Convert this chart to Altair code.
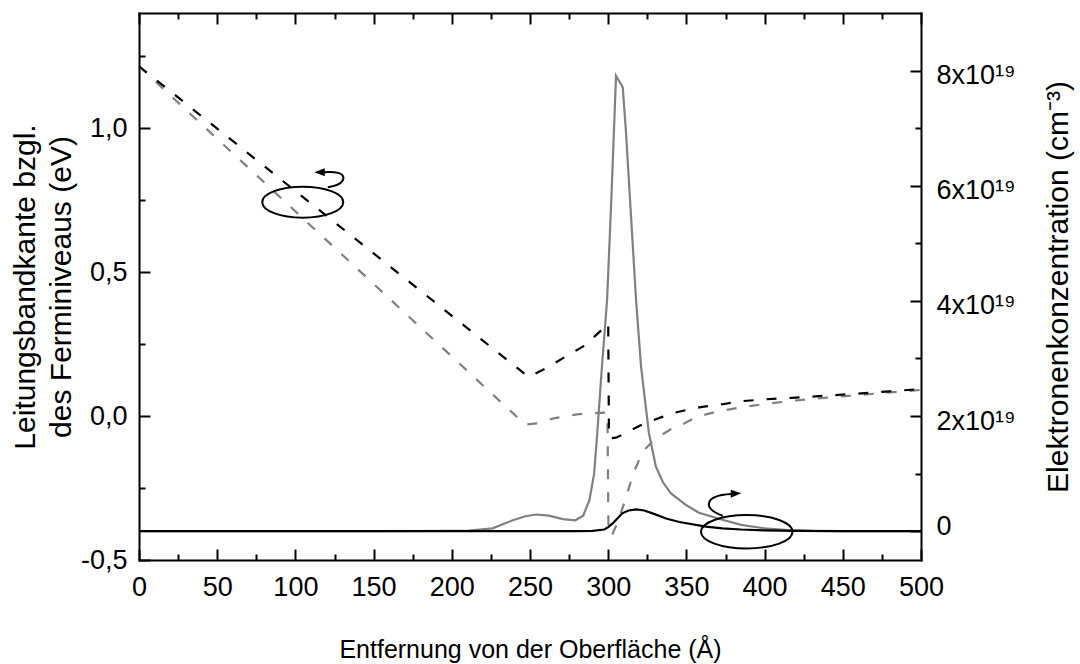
import altair as alt
import pandas as pd

# Conduction band edge relative to the Fermi level (eV) -- dashed curves
band_gray_x = [0, 247, 255, 265, 280, 290, 299.5, 300.2, 302.5, 306, 311, 316, 322, 328, 334,
               340, 347, 357, 370, 385, 400, 420, 440, 460, 480, 500]
band_gray_y = [1.215, -0.03, -0.025, -0.008, 0.006, 0.01, 0.012, -0.41, -0.413, -0.37, -0.29,
               -0.2, -0.125, -0.09, -0.066, -0.046, -0.03, -0.002, 0.016, 0.03, 0.042, 0.054,
               0.064, 0.073, 0.082, 0.091]
band_black_x = [0, 249, 260, 272, 285, 297, 300, 300.5, 305, 310, 316, 322, 328, 335, 342, 350,
                360, 373, 386, 400, 420, 440, 460, 480, 500]
band_black_y = [1.215, 0.136, 0.165, 0.204, 0.245, 0.305, 0.322, -0.078, -0.075, -0.062, -0.045,
                -0.029, -0.016, -0.002, 0.011, 0.021, 0.032, 0.041, 0.052, 0.058, 0.064, 0.071,
                0.078, 0.086, 0.094]

# Electron concentration in units of 1e19 cm^-3 -- solid curves
conc_gray_x = [0, 150, 200, 211, 226, 239, 247, 254, 262, 271, 279, 284, 288, 291, 293, 296,
               299.3, 302.2, 305, 309.3, 311.4, 317.8, 321, 326, 330.5, 335, 340, 350, 358, 373,
               385, 400, 415, 430, 450, 500]
conc_gray_y = [0, 0, 0.005, 0.01, 0.05, 0.19, 0.26, 0.29, 0.27, 0.21, 0.19, 0.27, 0.54, 1.0, 1.7,
               2.86, 4.02, 5.9, 7.91, 7.71, 6.92, 4.02, 2.86, 1.71, 1.12, 0.85, 0.66, 0.45, 0.32,
               0.2, 0.11, 0.05, 0.02, 0.005, 0, 0]
conc_black_x = [0, 280, 290, 297.5, 300, 303, 309, 313, 318, 323, 328.4, 337, 345.5, 362.5, 373,
                385, 400, 420, 450, 500]
conc_black_y = [0, 0, 0.005, 0.03, 0.07, 0.14, 0.31, 0.36, 0.38, 0.36, 0.31, 0.22, 0.16, 0.08,
                0.05, 0.03, 0.015, 0.005, 0, 0]

# Tick positions
x_major = [0, 50, 100, 150, 200, 250, 300, 350, 400, 450, 500]
x_minor = [25, 75, 125, 175, 225, 275, 325, 375, 425, 475]
ev_major = [-0.5, 0.0, 0.5, 1.0]
ev_minor = [-0.25, 0.25, 0.75, 1.25]
conc_major = [0, 2, 4, 6, 8]
conc_minor = [1, 3, 5, 7]

# Axis markers: an ellipse round each curve group with a curled arrow towards its axis.
# The first sits on the band-edge curves (eV), the second on the concentration curves.
band_marker_x = [104.7]
band_marker_y = [0.743]
conc_marker_x = [388.6]
conc_marker_y = [-0.01]
band_marker_outline = ("M-40.5,0A40.5,15.5 0 1,0 40.5,0A40.5,15.5 0 1,0 -40.5,0Z"
                       "M25,-15C33,-16 40,-19 40.7,-24C41,-29 33,-31 21,-30")
band_marker_head = "M11.5,-30L22,-34L22,-26Z"
conc_marker_outline = ("M-45.8,0A45.8,16.7 0 1,0 45.8,0A45.8,16.7 0 1,0 -45.8,0Z"
                       "M-24,-16C-32,-19 -38,-22 -38,-27C-38,-33 -31,-37 -15,-37.7")
conc_marker_head = "M-5.5,-38.5L-16,-42L-16,-34Z"

W, H = 782, 547
X_DOMAIN = [0, 500]
EV_DOMAIN = [-0.5, 1.4]
CONC_DOMAIN = [-0.5, 9.0]
GRAY = "#808080"
DASH = [10, 13]
MAJOR, MINOR = 11, 6


def frame(xs, ys):
    return pd.DataFrame({"i": range(len(xs)), "x": xs, "y": ys})


def xenc(axis):
    return alt.X("x:Q", scale=alt.Scale(domain=X_DOMAIN, nice=False, zero=False), axis=axis)


def yenc(domain, axis):
    return alt.Y("y:Q", scale=alt.Scale(domain=domain, nice=False, zero=False), axis=axis)


def inward(orient, values, size, offset, domain):
    # ticks pointing into the plot: an axis of the opposite side moved across the plot
    return alt.Axis(orient=orient, offset=offset, values=values, tickSize=size,
                    labels=False, domain=domain, title=None)


ev_labels = "replace(replace(format(datum.value, '.1f'), '.', ','), '\u2212', '-')"

# label axes (no ticks, no domain)
axis_bottom = alt.Axis(
    orient="bottom", values=x_major, format="d", ticks=False, domain=False, labelPadding=14,
    labelFlush=False, labelOverlap=False, labelFontSize=27,
    title="Entfernung von der Oberfläche (Å)", titleFontSize=25, titleY=97,
    titleBaseline="alphabetic",
)
axis_left = alt.Axis(
    orient="left", values=ev_major, labelExpr=ev_labels, ticks=False, domain=False,
    labelPadding=12, labelOverlap=False, labelFontSize=27,
    title=["Leitungsbandkante bzgl.", "des Ferminiveaus (eV)"], titleFontSize=30,
    titleX=-105, titleY=H / 2, titleAngle=-90, titleAlign="center",
    titleBaseline="alphabetic", titleLineHeight=36,
)
axis_right = alt.Axis(
    orient="right", values=conc_major, ticks=False, domain=False, labelPadding=15,
    labelOverlap=False, labelFontSize=27,
    labelExpr="datum.value == 0 ? '0' : datum.value + 'x10\u00b9\u2079'",
    labelOffset={"condition": {"test": "datum.value == 0", "value": -5}, "value": 5},
    title="Elektronenkonzentration (cm\u207b\u00b3)", titleFontSize=30,
    titleX=146, titleY=H / 2, titleAngle=-90, titleAlign="center",
    titleBaseline="alphabetic",
)

# frame lines and inward ticks
ticks_bottom = inward("top", x_major, MAJOR, -H, True)
ticks_bottom_minor = inward("top", x_minor, MINOR, -H, False)
ticks_top = inward("bottom", x_major, MAJOR, -H, True)
ticks_top_minor = inward("bottom", x_minor, MINOR, -H, False)
ticks_left = inward("right", ev_major, MAJOR, -W, True)
ticks_left_minor = inward("right", ev_minor, MINOR, -W, False)
ticks_right = inward("left", conc_major, MAJOR, -W, True)
ticks_right_minor = inward("left", conc_minor, MINOR, -W, False)

band_gray = alt.Chart(frame(band_gray_x, band_gray_y)).mark_line(
    color=GRAY, strokeWidth=2.2, strokeDash=DASH
).encode(x=xenc(axis_bottom), y=yenc(EV_DOMAIN, axis_left), order="i:Q")

band_black = alt.Chart(frame(band_black_x, band_black_y)).mark_line(
    color="black", strokeWidth=2.2, strokeDash=DASH
).encode(x=xenc(ticks_bottom), y=yenc(EV_DOMAIN, ticks_left), order="i:Q")

conc_gray = alt.Chart(frame(conc_gray_x, conc_gray_y)).mark_line(
    color=GRAY, strokeWidth=2.2
).encode(x=xenc(ticks_bottom_minor), y=yenc(CONC_DOMAIN, axis_right), order="i:Q")

conc_black = alt.Chart(frame(conc_black_x, conc_black_y)).mark_line(
    color="black", strokeWidth=2.2
).encode(x=xenc(ticks_top), y=yenc(CONC_DOMAIN, ticks_right), order="i:Q")

band_marker = pd.DataFrame({"x": band_marker_x, "y": band_marker_y})
conc_marker = pd.DataFrame({"x": conc_marker_x, "y": conc_marker_y})

band_outline = alt.Chart(band_marker).mark_point(
    shape=band_marker_outline, filled=False, size=4, color="black", strokeWidth=2, opacity=1
).encode(x=xenc(ticks_top_minor), y=yenc(EV_DOMAIN, ticks_left_minor))
conc_outline = alt.Chart(conc_marker).mark_point(
    shape=conc_marker_outline, filled=False, size=4, color="black", strokeWidth=2, opacity=1
).encode(x=xenc(None), y=yenc(CONC_DOMAIN, ticks_right_minor))
band_head = alt.Chart(band_marker).mark_point(
    shape=band_marker_head, filled=True, size=4, color="black", strokeWidth=0, opacity=1
).encode(x=xenc(None), y=yenc(EV_DOMAIN, None))
conc_head = alt.Chart(conc_marker).mark_point(
    shape=conc_marker_head, filled=True, size=4, color="black", strokeWidth=0, opacity=1
).encode(x=xenc(None), y=yenc(CONC_DOMAIN, None))

chart = (
    alt.layer(band_gray, band_black, conc_gray, conc_black,
              band_outline, conc_outline, band_head, conc_head)
    .resolve_scale(y="independent")
    .resolve_axis(x="independent", y="independent")
    .properties(
        width=W, height=H,
        autosize=alt.AutoSizeParams(type="none"),
        padding={"left": 139, "top": 13, "right": 1080 - 139 - W, "bottom": 664 - 13 - H},
        background="white",
    )
    .configure_axis(
        labelFont="Liberation Sans", titleFont="Liberation Sans",
        titleFontWeight="normal", labelColor="black", titleColor="black",
        domainColor="black", tickColor="black", domainWidth=2, tickWidth=2,
        domainCap="square", grid=False,
    )
    .configure_view(strokeWidth=0)
)

chart.save("out.html", embed_options={"renderer": "svg", "actions": False})
